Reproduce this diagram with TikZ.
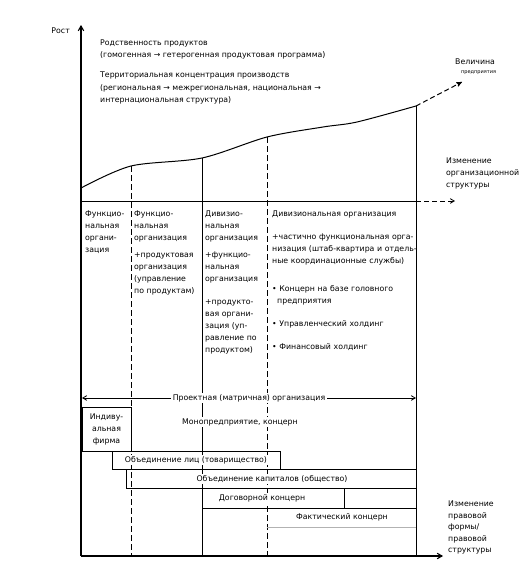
\documentclass[tikz,border=0pt]{standalone}
\usepackage{fontspec}
\setmainfont{DejaVu Sans}
\usetikzlibrary{arrows,calc,positioning}

\begin{document}
\begin{tikzpicture}[x=1pt,y=-1pt,
  lbl/.style={font=\fontsize{7.8}{12}\selectfont,inner sep=0pt,align=left},
  col/.style={lbl,anchor=north west,text width=#1},
  cut/.style={lbl,fill=white,inner sep=1.5pt},
  axis/.style={line width=1.1pt,-angle 60},
  dashline/.style={line width=0.9pt,dash pattern=on 6pt off 3pt},
  bar/.style={line width=0.8pt}]
\useasboundingbox (0,0) rectangle (525,565);
% axes
\coordinate (O) at (81,556);
\draw[axis] (O) -- (81,25) coordinate(T);
\draw[axis] (O) -- (443,556) coordinate(R);
\node[lbl,anchor=east] (rost) at (70,31) {Рост};
% growth curve
\coordinate (c0) at (81,188);
\coordinate (c1) at (131,166);
\coordinate (c2) at (202,158);
\coordinate (c3) at (267,137);
\coordinate (c4) at (416,106);
\draw[line width=1pt] plot[smooth,tension=0.5] coordinates {(c0) (c1) (c2) (c3) (323,127) (357,122) (c4)};
\draw[line width=1pt,dash pattern=on 5pt off 3pt,-stealth'] (c4) -- (462,82) coordinate(E);
% phase borders
\draw[dashline] (c1) -- (c1 |- O);
\draw[bar] (c2) -- (c2 |- O);
\draw[dashline] (c3) -- (c3 |- O);
\draw[bar] (c4) -- (c4 |- O);
% organisational axis
\coordinate (S) at (81,201);
\draw[bar] (S) -- (S -| c4) coordinate(S4);
\draw[bar,dash pattern=on 5pt off 3pt,-angle 60] (S4) -- (455,201) coordinate(S5);
% legal forms
\draw[bar] (82,407) rectangle (131,451);
\draw[bar] (82,451) -- (112,451);
\draw[bar] (112,451) rectangle (280,469);
\draw[bar] (126,469) rectangle (416,488);
\draw[bar] (202,488) rectangle (344,508);
\draw[bar] (344,508) -- (416,508);
\draw[gray!60,line width=0.5pt] (267,527) -- (416,527);
\draw[bar,angle 60-angle 60] (82,398) coordinate(P0) -- node[cut] (proj) {Проектная (матричная) организация} (416,398) coordinate(P1);
% texts
\node[lbl,anchor=north west] (rod) at (100,40) {Родственность продуктов\\(гомогенная → гетерогенная продуктовая программа)};
\node[lbl,anchor=north west,font=\fontsize{7.8}{12.5}\selectfont] (terr) at (100,72) {Территориальная концентрация производств\\(региональная → межрегиональная, национальная →\\интернациональная структура)};
\node[lbl,anchor=west] (vel) at (455,62) {Величина};
\node[lbl,anchor=west,font=\fontsize{5}{6}\selectfont] (pred) at (461,73) {предприятия};
\node[lbl,anchor=north west] (izm) at (446,158) {Изменение\\организационной\\структуры};
\node[lbl,anchor=north west,font=\fontsize{7.8}{11.5}\selectfont] (izm2) at (448,501) {Изменение\\правовой\\формы/\\правовой\\структуры};
\node[col=45pt] (func) at (85,211) {Функцио-\\нальная\\органи-\\зация};
\node[col=66pt] (func2) at (134,211) {Функцио-\\нальная\\организация\\[5pt]+продуктовая\\организация\\(управление\\по продуктам)};
\node[col=60pt] (div) at (205,211) {Дивизио-\\нальная\\организация\\[5pt]+функцио-\\нальная\\организация\\[11pt]+продукто-\\вая органи-\\зация (уп-\\равление по\\продуктом)};
\node[col=145pt] (div2) at (272,211) {Дивизиональная организация\\[11pt]+частично функциональная орга-\\низация (штаб-квартира и отдель-\\ные координационные службы)\\[16pt]• Концерн на базе головного\\\hspace*{5pt}предприятия\\[11pt]• Управленческий холдинг\\[11pt]• Финансовый холдинг};
\node[lbl,align=center] (ind) at (106.5,429) {Индиву-\\альная\\фирма};
\node[cut] (mono) at (240,422) {Монопредприятие, концерн};
\node[cut] (lic) at (196,460) {Объединение лиц (товарищество)};
\node[cut] (kap) at (272,479) {Объединение капиталов (общество)};
\node[cut] (dog) at (262,498) {Договорной концерн};
\node[cut] (fakt) at (342,517) {Фактический концерн};
\end{tikzpicture}
\end{document}
